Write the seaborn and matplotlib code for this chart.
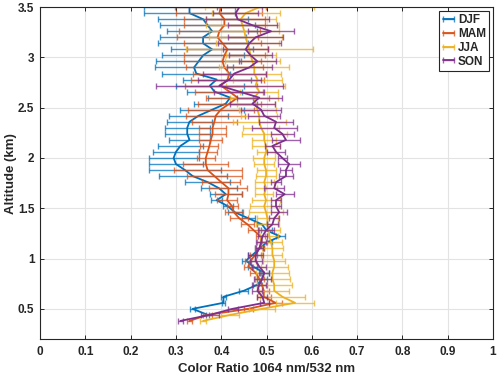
import pandas as pd
import seaborn as sns
import matplotlib.pyplot as plt
from matplotlib.ticker import FormatStrFormatter

# altitude levels (km), top to bottom
alt = [3.50, 3.44, 3.38, 3.32, 3.26, 3.20, 3.14, 3.08, 3.02, 2.96,
       2.90, 2.84, 2.78, 2.72, 2.66, 2.60, 2.54, 2.48, 2.42, 2.36,
       2.30, 2.24, 2.18, 2.12, 2.06, 2.00, 1.94, 1.88, 1.82, 1.76,
       1.70, 1.64, 1.58, 1.52, 1.46, 1.40, 1.34, 1.28, 1.22, 1.16,
       1.10, 1.04, 0.98, 0.92, 0.86, 0.80, 0.74, 0.68, 0.62, 0.56,
       0.50, 0.44, 0.38]

djf = [0.33, 0.33, 0.36, 0.37, 0.38, 0.36, 0.36, 0.38, 0.36, 0.35,
       0.34, 0.345, 0.39, 0.375, 0.385, 0.42, 0.41, 0.38, 0.35, 0.33,
       0.325, 0.325, 0.33, 0.31, 0.30, 0.295, 0.30, 0.32, 0.337, 0.37,
       0.395, 0.41, 0.39, 0.415, 0.43, 0.46, 0.49, 0.50, 0.53, 0.50,
       0.485, 0.47, 0.455, 0.47, 0.495, 0.49, 0.48, 0.45, 0.405, 0.405,
       0.337, 0.37]
djf_err = [0.10, 0.10, 0.10, 0.105, 0.10, 0.095, 0.10, 0.09, 0.09, 0.093,
           0.086, 0.075, 0.075, 0.075, 0.06, 0.05, 0.07, 0.07, 0.065, 0.05,
           0.05, 0.05, 0.045, 0.05, 0.05, 0.055, 0.06, 0.08, 0.075, 0.05,
           0.04, 0.035, 0.012, 0.012, 0.015, 0.015, 0.012, 0.012, 0.01, 0.012,
           0.01, 0.01, 0.01, 0.01, 0.01, 0.01, 0.01, 0.01, 0.006, 0.004,
           0.006, 0.004]

mam = [0.399, 0.396, 0.407, 0.407, 0.396, 0.392, 0.403, 0.414, 0.407, 0.403,
       0.407, 0.418, 0.414, 0.399, 0.418, 0.436, 0.418, 0.399, 0.388, 0.385,
       0.381, 0.381, 0.377, 0.374, 0.370, 0.366, 0.366, 0.37, 0.385, 0.40,
       0.416, 0.416, 0.413, 0.424, 0.428, 0.44, 0.458, 0.472, 0.487, 0.49,
       0.484, 0.476, 0.465, 0.46, 0.476, 0.484, 0.49, 0.494, 0.494, 0.52,
       0.46, 0.37, 0.33]
mam_err = [0.10, 0.095, 0.09, 0.09, 0.09, 0.09, 0.085, 0.09, 0.09, 0.085,
           0.085, 0.08, 0.08, 0.08, 0.075, 0.07, 0.07, 0.073, 0.065, 0.05,
           0.03, 0.03, 0.025, 0.02, 0.02, 0.02, 0.05, 0.075, 0.06, 0.042,
           0.042, 0.03, 0.022, 0.012, 0.02, 0.02, 0.015, 0.012, 0.01, 0.01,
           0.01, 0.012, 0.012, 0.01, 0.012, 0.01, 0.01, 0.012, 0.015, 0.015,
           0.01, 0.01, 0.005]

jja = [0.484, 0.454, 0.443, 0.447, 0.451, 0.454, 0.458, 0.462, 0.465, 0.469,
       0.473, 0.473, 0.48, 0.476, 0.484, 0.473, 0.476, 0.48, 0.484, 0.484,
       0.488, 0.495, 0.495, 0.499, 0.499, 0.495, 0.495, 0.499, 0.499, 0.495,
       0.499, 0.495, 0.499, 0.495, 0.499, 0.502, 0.502, 0.506, 0.506, 0.51,
       0.513, 0.513, 0.517, 0.517, 0.513, 0.513, 0.517, 0.517, 0.535, 0.563,
       0.49, 0.42, 0.36]
jja_err = [0.12, 0.075, 0.077, 0.08, 0.077, 0.08, 0.07, 0.14, 0.055, 0.06,
           0.077, 0.06, 0.055, 0.065, 0.042, 0.053, 0.042, 0.04, 0.04, 0.058,
           0.04, 0.05, 0.026, 0.03, 0.02, 0.024, 0.022, 0.021, 0.023, 0.021,
           0.025, 0.02, 0.03, 0.032, 0.038, 0.024, 0.026, 0.024, 0.02, 0.024,
           0.024, 0.022, 0.024, 0.03, 0.037, 0.039, 0.039, 0.033, 0.05, 0.042,
           0.028, 0.02, 0.006]

son = [0.44, 0.432, 0.436, 0.469, 0.51, 0.476, 0.462, 0.454, 0.465, 0.48,
       0.462, 0.429, 0.418, 0.396, 0.44, 0.484, 0.469, 0.488, 0.495, 0.521,
       0.517, 0.535, 0.543, 0.513, 0.521, 0.535, 0.55, 0.543, 0.543, 0.521,
       0.517, 0.54, 0.521, 0.521, 0.528, 0.517, 0.513, 0.499, 0.491, 0.488,
       0.484, 0.476, 0.476, 0.484, 0.495, 0.491, 0.484, 0.48, 0.491, 0.495,
       0.425, 0.375, 0.31]
son_err = [0.05, 0.05, 0.07, 0.055, 0.05, 0.06, 0.07, 0.05, 0.048, 0.04,
           0.05, 0.07, 0.07, 0.14, 0.055, 0.05, 0.05, 0.045, 0.035, 0.037,
           0.05, 0.025, 0.03, 0.016, 0.02, 0.01, 0.024, 0.013, 0.016, 0.011,
           0.022, 0.02, 0.011, 0.011, 0.017, 0.011, 0.013, 0.017, 0.01, 0.011,
           0.008, 0.016, 0.013, 0.015, 0.011, 0.018, 0.015, 0.011, 0.011, 0.01,
           0.011, 0.02, 0.005]

seasons = ['DJF', 'MAM', 'JJA', 'SON']
colors = ['#0072BD', '#D95319', '#EDB120', '#7E2F8E']

frames = []
for name, vals, errs in zip(seasons, [djf, mam, jja, son], [djf_err, mam_err, jja_err, son_err]):
    frames.append(pd.DataFrame({'season': name, 'ratio': vals, 'err': errs,
                                'alt': alt[:len(vals)]}))
df = pd.concat(frames, ignore_index=True)

sns.set_theme(style='whitegrid')
plt.rcParams['font.family'] = ['Liberation Sans', 'DejaVu Sans']

fig = plt.figure(figsize=(5, 3.75), dpi=100)
ax = fig.add_axes([0.08, 0.096, 0.906, 0.885])

handles = []
for name, c in zip(seasons, colors):
    d = df[df.season == name]
    eb = ax.errorbar(d.ratio, d.alt, xerr=d.err, fmt='none', ecolor=c,
                     elinewidth=1.0, capsize=2.2, capthick=1.0, alpha=0.75)
    sns.lineplot(data=d, x='ratio', y='alt', color=c, estimator=None, sort=False,
                 orient='y', lw=1.3, ax=ax)
    handles.append((ax.lines[-1], eb))

ax.set_xlim(0, 1)
ax.set_ylim(0.2, 3.5)
ax.set_xticks([i / 10 for i in range(11)])
ax.set_yticks([0.5, 1, 1.5, 2, 2.5, 3, 3.5])
ax.xaxis.set_major_formatter(FormatStrFormatter('%g'))
ax.yaxis.set_major_formatter(FormatStrFormatter('%g'))

ax.grid(True, color='#e3e3e3', lw=0.8)
for s in ax.spines.values():
    s.set_visible(True)
    s.set_color('#262626')
    s.set_linewidth(0.8)
ax.tick_params(direction='in', length=3, width=0.7, color='#262626',
               top=True, right=True, bottom=True, left=True,
               labelsize=8.5, labelcolor='#262626', pad=5)
ax.tick_params(axis='y', pad=4)
for lab in ax.get_xticklabels() + ax.get_yticklabels():
    lab.set_fontweight('bold')

ax.set_xlabel('Color Ratio 1064 nm/532 nm', fontsize=9.5, fontweight='bold',
              color='#262626', labelpad=4)
ax.set_ylabel('Altitude (km)', fontsize=9.5, fontweight='bold',
              color='#262626', labelpad=1)

leg = ax.legend(handles=handles, labels=seasons, loc='upper right',
                prop={'weight': 'bold', 'size': 8.5}, frameon=True, fancybox=False,
                edgecolor='#262626', framealpha=1, handlelength=1.0,
                borderpad=0.3, labelspacing=0.15, handletextpad=0.3, borderaxespad=0.3)
leg.get_frame().set_linewidth(0.8)

fig.savefig('out.png', dpi=100, facecolor='white')
